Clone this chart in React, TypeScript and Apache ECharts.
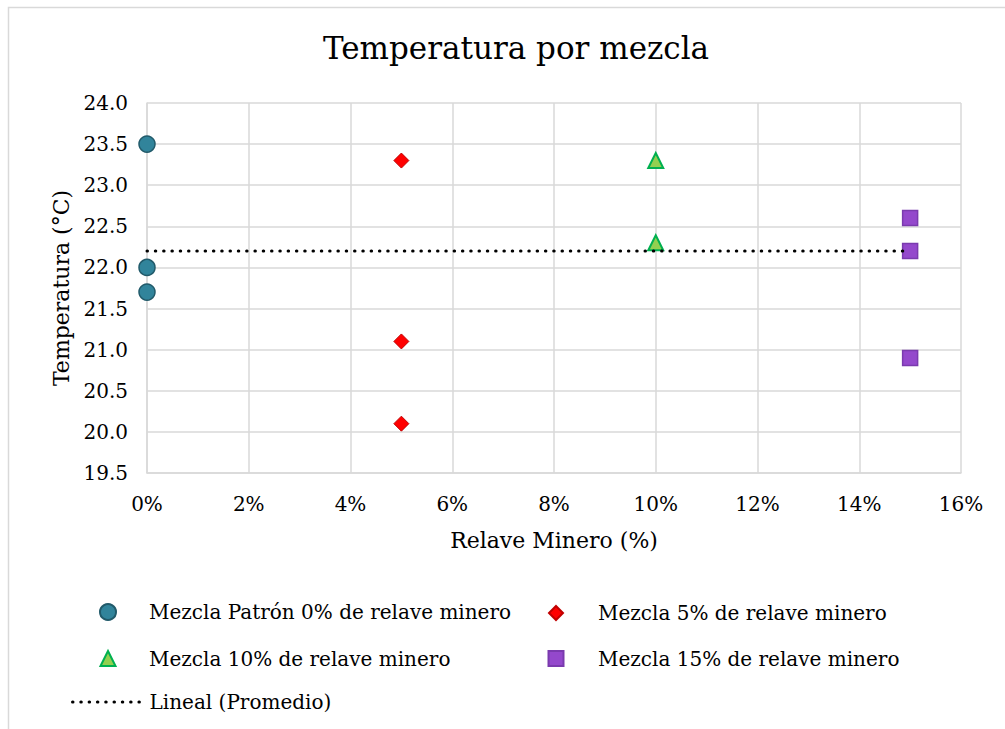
import React, { useEffect, useRef } from "react";
import * as echarts from "echarts";

const FONT = "DejaVu Serif";

const xTicksMin = 0;
const xTicksMax = 16;
const xTickStep = 2;
const yMin = 19.5;
const yMax = 24.0;
const yStep = 0.5;

const seriesNames = [
  "Mezcla Patrón 0% de relave minero",
  "Mezcla 5% de relave minero",
  "Mezcla 10% de relave minero",
  "Mezcla 15% de relave minero",
];
const trendName = "Lineal (Promedio)";

const x0 = [0, 0, 0];
const y0 = [23.5, 22.0, 21.7];
const x5 = [5, 5, 5];
const y5 = [23.3, 21.1, 20.1];
const x10 = [10, 10];
const y10 = [23.3, 22.3];
const x15 = [15, 15, 15];
const y15 = [22.6, 22.2, 20.9];
const trendX = [0, 15];
const trendY = [22.2, 22.2];

const zip = (xs: number[], ys: number[]) => xs.map((x, i) => [x, ys[i]]);

export default function App() {
  const ref = useRef<HTMLDivElement>(null);
  useEffect(() => {
    if (!ref.current) return;
    const chart = echarts.init(ref.current, undefined, { renderer: "svg" });
    const textStyle = { fontFamily: FONT, fontSize: 20, color: "#000" };
    const legendBase = {
      orient: "horizontal" as const,
      padding: 0,
      itemGap: 0,
      selectedMode: false,
    };
    const dotted = { color: "#000", width: 3, type: [0.5, 7.8], cap: "round" };
    const lt = (padLeft: number) => ({ ...textStyle, padding: [0, 0, 0, padLeft] });
    chart.setOption({
      animation: false,
      backgroundColor: "#fff",
      title: {
        text: "Temperatura por mezcla",
        left: 318,
        top: 27,
        textStyle: { fontFamily: FONT, fontSize: 31, fontWeight: "normal", color: "#000" },
      },
      graphic: [
        {
          type: "rect",
          shape: { x: 8.5, y: 7.5, width: 1100, height: 900 },
          style: { fill: "none", stroke: "#d9d9d9", lineWidth: 1.5 },
          silent: true,
          z: -10,
        },
      ],
      grid: { left: 147, right: 44, top: 103, bottom: 256 },
      xAxis: {
        type: "value",
        min: xTicksMin,
        max: xTicksMax,
        interval: xTickStep,
        name: "Relave Minero (%)",
        nameLocation: "middle",
        nameGap: 56,
        nameTextStyle: { fontFamily: FONT, fontSize: 22, color: "#000" },
        axisLine: { show: true, lineStyle: { color: "#d9d9d9", width: 1.5 } },
        axisTick: { show: false },
        splitLine: { show: true, lineStyle: { color: "#d9d9d9", width: 1.5 } },
        axisLabel: { ...textStyle, margin: 21, formatter: "{value}%" },
      },
      yAxis: {
        type: "value",
        min: yMin,
        max: yMax,
        interval: yStep,
        name: "Temperatura (°C)",
        nameLocation: "middle",
        nameGap: 75,
        nameTextStyle: { fontFamily: FONT, fontSize: 22, color: "#000" },
        axisLine: { show: true, lineStyle: { color: "#d9d9d9", width: 1.5 } },
        axisTick: { show: false },
        splitLine: { show: true, lineStyle: { color: "#d9d9d9", width: 1.5 } },
        axisLabel: { ...textStyle, margin: 19, formatter: (v: number) => v.toFixed(1) },
      },
      legend: [
        { ...legendBase, left: 99, top: 602, itemWidth: 16, itemHeight: 16, textStyle: lt(28), data: [seriesNames[0]] },
        { ...legendBase, left: 548, top: 603, itemWidth: 14, itemHeight: 14, textStyle: lt(30), data: [seriesNames[1]] },
        { ...legendBase, left: 99.5, top: 648.5, itemWidth: 15, itemHeight: 15, textStyle: lt(28.5), data: [seriesNames[2]] },
        { ...legendBase, left: 547.5, top: 648.5, itemWidth: 15, itemHeight: 15, textStyle: lt(29.5), data: [seriesNames[3]] },
        {
          ...legendBase,
          left: 71,
          top: 692,
          itemWidth: 70,
          itemHeight: 14,
          textStyle: lt(2),
          lineStyle: dotted,
          itemStyle: { color: "rgba(0,0,0,0)", borderWidth: 0, opacity: 0 },
          data: [trendName],
        },
      ],
      series: [
        {
          name: seriesNames[0],
          type: "scatter",
          symbol: "circle",
          symbolSize: 16,
          itemStyle: { color: "#31849b", borderColor: "#215a6a", borderWidth: 1.5, opacity: 1 },
          data: zip(x0, y0),
        },
        {
          name: seriesNames[1],
          type: "scatter",
          symbol: "diamond",
          symbolSize: 15,
          itemStyle: { color: "#ff0000", borderColor: "#c00000", borderWidth: 1, opacity: 1 },
          data: zip(x5, y5),
        },
        {
          name: seriesNames[2],
          type: "scatter",
          symbol: "triangle",
          symbolSize: 15,
          itemStyle: { color: "#92d050", borderColor: "#00b050", borderWidth: 2, opacity: 1 },
          data: zip(x10, y10),
        },
        {
          name: seriesNames[3],
          type: "scatter",
          symbol: "rect",
          symbolSize: 15,
          itemStyle: { color: "#9448cc", borderColor: "#7a3aae", borderWidth: 1.5, opacity: 1 },
          data: zip(x15, y15),
        },
        {
          name: trendName,
          type: "line",
          showSymbol: false,
          symbol: "none",
          z: 5,
          lineStyle: dotted,
          itemStyle: { color: "#000" },
          data: zip(trendX, trendY),
        },
      ],
    });
    return () => chart.dispose();
  }, []);
  return (
    <div
      ref={ref}
      style={{ position: "fixed", left: 0, top: 0, width: 1005, height: 729, background: "#fff" }}
    />
  );
}
